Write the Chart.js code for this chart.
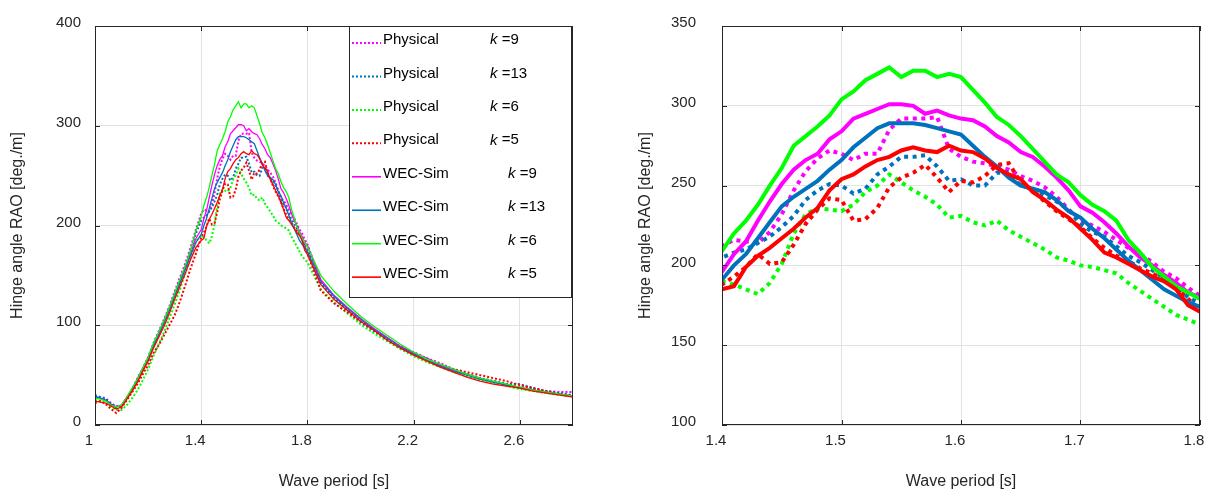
<!DOCTYPE html>
<html>
<head>
<meta charset="utf-8">
<script src="https://cdn.jsdelivr.net/npm/chart.js@4.4.1/dist/chart.umd.min.js"></script>
<style>
  html, body { margin: 0; padding: 0; background: #fff; }
  .panel { position: absolute; top: 0; }
</style>
</head>
<body>
<div class="panel" style="left:0"><canvas id="leftChart" width="600" height="493"></canvas></div>
<div class="panel" style="left:600px"><canvas id="rightChart" width="608" height="493"></canvas></div>
<script>
// wave periods [s]
const periods = [
  1.00, 1.02, 1.04, 1.06, 1.08, 1.10, 1.12, 1.14, 1.16, 1.18,
  1.20, 1.22, 1.24, 1.26, 1.28, 1.30, 1.32, 1.34, 1.36, 1.38,
  1.40, 1.41, 1.42, 1.43, 1.44, 1.45, 1.46, 1.47, 1.48, 1.49,
  1.50, 1.51, 1.52, 1.53, 1.54, 1.55, 1.56, 1.57, 1.58, 1.59,
  1.60, 1.61, 1.62, 1.63, 1.64, 1.65, 1.66, 1.67, 1.68, 1.69,
  1.70, 1.71, 1.72, 1.73, 1.74, 1.75, 1.76, 1.77, 1.78, 1.79,
  1.80, 1.85, 1.90, 1.95, 2.00, 2.05, 2.10, 2.15, 2.20, 2.25,
  2.30, 2.35, 2.40, 2.45, 2.50, 2.55, 2.60, 2.65, 2.70, 2.75, 2.80,
];

const kValues = [9, 13, 6, 5];
const seriesColors = ["#ff00ff", "#0072bd", "#00ff00", "#ff0000"];
const legendNames = ["Physical", "WEC-Sim"];

// hinge angle RAO [deg./m], measured
const physicalK9 = [
  28, 28, 27, 22, 19, 19, 27, 36, 47, 57, 68, 82, 94, 106, 119, 134, 148, 162, 178, 196,
  212, 216, 215, 214, 221, 232, 247, 259, 267, 272, 270, 266, 270, 270, 285, 292, 292, 292, 293, 273,
  268, 265, 264, 262, 260, 256, 253, 249, 243, 235, 228, 225, 221, 216, 211, 207, 202, 196, 192, 186, 181,
  145, 129, 117, 104, 95, 86, 79, 73, 67, 62, 56, 51, 47, 44, 41, 38, 36, 34, 33, 33,
];
const physicalK13 = [
  30, 28, 26, 21, 17, 19, 27, 36, 46, 56, 67, 80, 92, 104, 117, 131, 145, 158, 174, 192,
  205, 208, 210, 214, 218, 224, 231, 241, 247, 251, 250, 245, 248, 257, 262, 268, 268, 269, 262, 253,
  254, 250, 250, 258, 258, 250, 248, 244, 240, 235, 226, 221, 218, 212, 206, 202, 197, 192, 187, 180, 176,
  142, 127, 115, 103, 94, 86, 78, 72, 66, 60, 56, 51, 47, 44, 41, 41, 37, 34, 32, 30,
];
const physicalK6 = [
  25, 24, 22, 18, 15, 15, 20, 27, 35, 45, 56, 69, 81, 93, 107, 121, 136, 152, 168, 184,
  190, 188, 185, 182, 189, 201, 220, 232, 236, 235, 234, 238, 246, 250, 257, 252, 247, 243, 238, 230,
  231, 227, 225, 228, 222, 218, 214, 210, 205, 203, 200, 199, 197, 195, 189, 184, 179, 174, 169, 166, 163,
  136, 123, 112, 101, 92, 84, 76, 69, 63, 58, 53, 49, 45, 42, 39, 36, 34, 32, 30, 29,
];
const physicalK5 = [
  22, 24, 21, 16, 12, 17, 25, 33, 41, 51, 60, 72, 80, 90, 100, 110, 124, 140, 157, 172,
  188, 193, 199, 207, 201, 202, 213, 226, 235, 242, 241, 228, 229, 236, 249, 255, 258, 263, 255, 246,
  253, 252, 256, 263, 264, 252, 247, 240, 234, 229, 224, 217, 211, 206, 203, 198, 195, 191, 186, 179, 172,
  135, 122, 113, 104, 95, 86, 78, 72, 66, 60, 56, 53, 50, 47, 44, 40, 37, 34, 31, 29,
];

// hinge angle RAO [deg./m], simulated
const wecSimK9 = [
  28, 27, 25, 21, 18, 20, 28, 36, 45, 56, 66, 80, 91, 103, 116, 130, 143, 157, 172, 187,
  196, 207, 215, 228, 240, 251, 260, 266, 270, 279, 284, 292, 295, 298, 301, 301, 300, 295, 297, 294,
  292, 291, 287, 281, 277, 271, 268, 262, 255, 247, 237, 233, 227, 220, 212, 205, 200, 194, 189, 183, 180,
  146, 130, 118, 107, 97, 88, 79, 72, 67, 60, 55, 51, 47, 43, 40, 38, 35, 33, 31, 29,
];
const wecSimK13 = [
  29, 27, 25, 21, 18, 20, 27, 36, 45, 55, 65, 79, 90, 102, 115, 129, 142, 156, 170, 183,
  191, 200, 207, 217, 227, 237, 243, 248, 253, 260, 266, 274, 280, 286, 289, 289, 289, 288, 286, 284,
  282, 275, 268, 262, 255, 250, 248, 246, 241, 234, 230, 223, 217, 210, 203, 197, 191, 185, 181, 177, 174,
  144, 129, 117, 106, 96, 87, 78, 71, 65, 59, 54, 50, 46, 43, 40, 37, 35, 33, 31, 29,
];
const wecSimK6 = [
  27, 26, 24, 20, 18, 20, 28, 37, 46, 57, 68, 82, 93, 105, 118, 132, 146, 160, 175, 195,
  209, 220, 228, 238, 250, 261, 275, 281, 287, 294, 304, 309, 316, 320, 324, 318, 322, 322, 318, 320,
  318, 310, 302, 293, 288, 281, 273, 265, 257, 252, 244, 238, 234, 228, 216, 208, 199, 193, 187, 183, 179,
  150, 134, 121, 109, 99, 90, 81, 73, 66, 61, 56, 51, 47, 44, 41, 38, 35, 33, 31, 29,
];
const wecSimK5 = [
  24, 23, 22, 19, 16, 18, 26, 34, 43, 54, 64, 77, 88, 99, 112, 126, 139, 152, 166, 178,
  185, 187, 199, 206, 211, 217, 223, 230, 236, 247, 254, 257, 262, 266, 268, 272, 274, 272, 271, 275,
  272, 271, 267, 261, 257, 254, 246, 241, 235, 230, 223, 216, 208, 205, 201, 197, 193, 190, 185, 175, 171,
  141, 126, 115, 104, 95, 85, 77, 70, 64, 58, 53, 48, 44, 41, 39, 37, 34, 32, 30, 28,
];

const physicalSeries = [physicalK9, physicalK13, physicalK6, physicalK5];
const wecSimSeries = [wecSimK9, wecSimK13, wecSimK6, wecSimK5];

// axis ticks
const leftXTicks = [1, 1.4, 1.8, 2.2, 2.6];
const leftYTicks = [0, 100, 200, 300, 400];
const rightXTicks = [1.4, 1.5, 1.6, 1.7, 1.8];
const rightYTicks = [100, 150, 200, 250, 300, 350];

const textColor = "#262626";
const fontFamily = "'Liberation Sans', Arial, Helvetica, sans-serif";

const toPoints = (ys) => periods.map((x, i) => ({ x, y: ys[i] }));

// dataset 0 is drawn last, so the simulated lines end up on top
const makeDatasets = (style) => {
  const sets = [];
  for (let i = kValues.length - 1; i >= 0; i--) {
    sets.push({
      label: `WEC-Sim k =${kValues[i]}`,
      data: toPoints(wecSimSeries[i]),
      borderColor: seriesColors[i],
      borderWidth: style.solid,
      pointRadius: 0,
      tension: 0,
    });
  }
  for (let i = kValues.length - 1; i >= 0; i--) {
    sets.push({
      label: `Physical k =${kValues[i]}`,
      data: toPoints(physicalSeries[i]),
      borderColor: seriesColors[i],
      borderWidth: style.dotted,
      borderDash: style.dash,
      borderCapStyle: "butt",
      pointRadius: 0,
      tension: 0,
    });
  }
  return sets;
};

// box round the axes with inward ticks, matlab style
const axesBox = {
  id: "axesBox",
  afterDatasetsDraw(chart) {
    const { ctx, chartArea: a, scales } = chart;
    const { x, y } = scales;
    ctx.save();
    ctx.strokeStyle = textColor;
    ctx.lineWidth = 1;
    ctx.strokeRect(a.left + 0.5, a.top + 0.5, a.right - a.left - 1, a.bottom - a.top - 1);
    ctx.beginPath();
    x.ticks.forEach((t) => {
      const px = Math.round(x.getPixelForValue(t.value)) + 0.5;
      ctx.moveTo(px, a.bottom);
      ctx.lineTo(px, a.bottom - 5);
      ctx.moveTo(px, a.top);
      ctx.lineTo(px, a.top + 5);
    });
    y.ticks.forEach((t) => {
      const py = Math.round(y.getPixelForValue(t.value)) + 0.5;
      ctx.moveTo(a.left, py);
      ctx.lineTo(a.left + 5, py);
      ctx.moveTo(a.right, py);
      ctx.lineTo(a.right - 5, py);
    });
    ctx.stroke();
    ctx.restore();
  },
};

const insetLegend = {
  id: "insetLegend",
  afterDatasetsDraw(chart) {
    const { ctx, chartArea: a } = chart;
    const w = 222;
    const h = 271;
    const left = a.right - w - 2;
    const top = a.top;
    ctx.save();
    ctx.fillStyle = "#fff";
    ctx.fillRect(left, top, w, h);
    ctx.strokeStyle = textColor;
    ctx.lineWidth = 1;
    ctx.strokeRect(left + 0.5, top + 0.5, w, h);
    ctx.textBaseline = "middle";
    const rows = [];
    legendNames.forEach((name, n) =>
      kValues.forEach((k, i) => rows.push({ name, k, color: seriesColors[i], dotted: n === 0 }))
    );
    rows.forEach((r, j) => {
      const y = top + 14 + j * 33.45;
      ctx.beginPath();
      ctx.strokeStyle = r.color;
      ctx.lineWidth = r.dotted ? 2 : 1.6;
      ctx.setLineDash(r.dotted ? [2, 2] : []);
      ctx.moveTo(left + 3, y + 3);
      ctx.lineTo(left + 32, y + 3);
      ctx.stroke();
      ctx.setLineDash([]);
      ctx.fillStyle = "#000";
      ctx.font = `15px ${fontFamily}`;
      ctx.fillText(r.name, left + 34, y);
      let kx = left + (r.dotted ? 141 : 159);
      ctx.font = `italic 15px ${fontFamily}`;
      ctx.fillText("k", kx, y);
      kx += ctx.measureText("k").width;
      ctx.font = `15px ${fontFamily}`;
      ctx.fillText(" =" + r.k, kx, y);
    });
    ctx.restore();
  },
};

// keep the plot box where it is, whatever room the edge labels ask for
const noEdgePadding = (s) => {
  s.paddingLeft = 0;
  s.paddingRight = 0;
  s.paddingTop = 0;
  s.paddingBottom = 0;
};

const buildChart = (id, cfg) =>
  new Chart(document.getElementById(id), {
    type: "line",
    data: { datasets: makeDatasets(cfg.lines) },
    plugins: cfg.plugins,
    options: {
      responsive: false,
      animation: false,
      layout: { padding: { top: 26, right: cfg.padRight, left: 0, bottom: 0 } },
      plugins: { legend: { display: false }, tooltip: { enabled: false } },
      scales: {
        x: {
          type: "linear",
          min: cfg.xMin,
          max: cfg.xMax,
          afterBuildTicks: (s) => {
            s.ticks = cfg.xTicks.map((v) => ({ value: v }));
          },
          afterFit: (s) => {
            s.height = 68;
            noEdgePadding(s);
          },
          grid: { color: "#e2e2e2", drawTicks: false },
          border: { display: false },
          ticks: {
            padding: 7,
            labelOffset: -6,
            color: textColor,
            font: { family: fontFamily, size: 15 },
            maxRotation: 0,
            autoSkip: false,
            callback: (v) => String(v),
          },
          title: {
            display: true,
            text: "Wave period [s]",
            color: textColor,
            font: { family: fontFamily, size: 16 },
            padding: { top: 0, bottom: 1.5 },
          },
        },
        y: {
          type: "linear",
          min: cfg.yTicks[0],
          max: cfg.yTicks[cfg.yTicks.length - 1],
          afterBuildTicks: (s) => {
            s.ticks = cfg.yTicks.map((v) => ({ value: v }));
          },
          afterFit: (s) => {
            s.width = cfg.yWidth;
            noEdgePadding(s);
          },
          grid: { color: "#e2e2e2", drawTicks: false },
          border: { display: false },
          ticks: {
            padding: cfg.yPad,
            labelOffset: -3,
            color: textColor,
            font: { family: fontFamily, size: 15 },
            callback: (v) => String(v),
          },
          title: {
            display: true,
            text: "Hinge angle RAO [deg./m]",
            color: textColor,
            font: { family: fontFamily, size: 16 },
            padding: { top: cfg.yTitlePad, bottom: 0 },
          },
        },
      },
    },
  });

buildChart("leftChart", {
  xMin: 1,
  xMax: 2.8,
  xTicks: leftXTicks,
  yTicks: leftYTicks,
  yWidth: 95,
  yPad: 14,
  yTitlePad: 8.4,
  padRight: 27,
  lines: { solid: 1.3, dotted: 2, dash: [2, 2] },
  plugins: [axesBox, insetLegend],
});

buildChart("rightChart", {
  xMin: 1.4,
  xMax: 1.8,
  xTicks: rightXTicks,
  yTicks: rightYTicks,
  yWidth: 122,
  yPad: 26,
  yTitlePad: 36.4,
  padRight: 8,
  lines: { solid: 4, dotted: 4, dash: [4, 4.5] },
  plugins: [axesBox],
});
</script>
</body>
</html>
